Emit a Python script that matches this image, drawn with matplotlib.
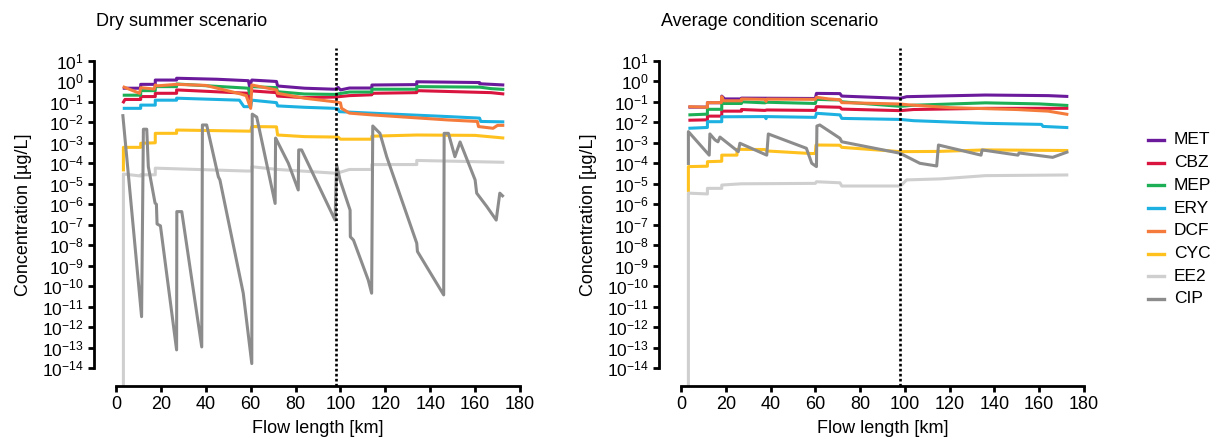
import matplotlib
matplotlib.use("Agg")
import matplotlib.pyplot as plt
from matplotlib.lines import Line2D

plt.rcParams['font.family'] = ['Liberation Sans', 'DejaVu Sans']
plt.rcParams['mathtext.fontset'] = 'custom'
plt.rcParams['mathtext.rm'] = 'Liberation Sans'
plt.rcParams['mathtext.it'] = 'Liberation Sans:italic'
plt.rcParams['mathtext.bf'] = 'Liberation Sans:bold'
plt.rcParams['mathtext.default'] = 'regular'

# ---------------- data (flow length km, concentration ug/L) ----------------
compounds = ["MET", "CBZ", "MEP", "ERY", "DCF", "CYC", "EE2", "CIP"]
colors = ["#6B1A9C", "#D8143F", "#1DAF55", "#1DB1E2", "#F47B3B", "#FFC11E", "#CFCFCF", "#8C8C8C"]
titles = ["Dry summer scenario", "Average condition scenario"]
x_ticks = [0, 20, 40, 60, 80, 100, 120, 140, 160, 180]
y_exponents = list(range(-14, 2))
marker_km = 98

# Dry summer scenario
dry_met_x = [3, 11, 11, 17.5, 17.5, 27, 27, 45, 59, 59.5, 60.5, 71.5, 72, 84, 97.5, 99, 100, 104, 114, 114, 134, 134, 162, 162, 173]
dry_met_c = [0.46, 0.46, 0.71, 0.71, 1.15, 1.15, 1.41, 1.26, 1.07, 0.55, 1.15, 0.98, 0.59, 0.46, 0.41, 0.5, 0.38, 0.47, 0.47, 0.66, 0.69, 0.95, 0.87, 0.76, 0.66]
dry_cbz_x = [3, 4, 11, 11, 17.5, 17.5, 27, 27, 59, 59.5, 60.5, 71.5, 72, 84, 97.5, 104, 114, 114, 134, 134, 167, 173]
dry_cbz_c = [0.085, 0.13, 0.13, 0.18, 0.18, 0.26, 0.26, 0.38, 0.26, 0.14, 0.34, 0.28, 0.19, 0.16, 0.17, 0.2, 0.22, 0.26, 0.28, 0.35, 0.28, 0.24]
dry_mep_x = [3, 11, 11, 17.5, 17.5, 27, 27, 59, 59.5, 60.5, 71.5, 72, 84, 97.5, 104, 114, 114, 134, 134, 162, 167, 173]
dry_mep_c = [0.21, 0.21, 0.35, 0.35, 0.55, 0.55, 0.74, 0.46, 0.25, 0.55, 0.49, 0.31, 0.24, 0.23, 0.3, 0.3, 0.41, 0.41, 0.55, 0.52, 0.44, 0.4]
dry_ery_x = [3, 11, 11, 17.5, 17.5, 27, 27, 55, 57, 60, 60.5, 71.5, 72, 84, 97.5, 99, 99.5, 120, 148, 162, 162.5, 173]
dry_ery_c = [0.048, 0.048, 0.069, 0.069, 0.12, 0.12, 0.15, 0.12, 0.058, 0.058, 0.12, 0.091, 0.063, 0.054, 0.048, 0.045, 0.033, 0.026, 0.019, 0.016, 0.011, 0.0105]
dry_dcf_x = [3, 10.5, 11, 17, 17.5, 18.5, 27, 40, 55, 58, 60, 60.5, 71.5, 72, 84, 97.5, 100, 100.5, 104, 114, 148, 161, 161.5, 168, 170, 173]
dry_dcf_c = [0.55, 0.26, 0.49, 0.42, 0.66, 0.6, 0.71, 0.63, 0.25, 0.2, 0.048, 0.66, 0.38, 0.26, 0.15, 0.1, 0.089, 0.048, 0.028, 0.023, 0.013, 0.011, 0.0062, 0.0051, 0.0071, 0.0071]
dry_cyc_x = [3.3, 3.3, 11, 11, 17.5, 17.5, 27, 27, 59, 60, 60.5, 71.5, 72, 84, 99, 100, 114, 114, 134, 160, 173]
dry_cyc_c = [4e-5, 6e-4, 6e-4, 9.5e-4, 1e-3, 2.9e-3, 2.9e-3, 4.2e-3, 3.7e-3, 3.7e-3, 6.2e-3, 6e-3, 2.4e-3, 2e-3, 1.9e-3, 1.5e-3, 1.5e-3, 2.1e-3, 2.4e-3, 2.3e-3, 1.7e-3]
dry_ee2_x = [3.3, 3.3, 11, 11, 17.5, 17.5, 58, 60.5, 60.5, 72, 97.5, 98.5, 104, 114, 114, 134, 134, 173]
dry_ee2_c = [1e-20, 3e-5, 2.4e-5, 2.75e-5, 2.75e-5, 5.8e-5, 4.2e-5, 4.2e-5, 6.8e-5, 5e-5, 3.3e-5, 3.3e-5, 5e-5, 5e-5, 8.7e-5, 8.7e-5, 1.38e-4, 1.12e-4]
dry_cip_x = [3, 11.4, 12.2, 13.7, 14.4, 17.4, 18.0, 18.3, 19.8, 27.0, 27.1, 29.3, 38.2, 38.5, 40.4, 45.6, 46.3,
             56.7, 60.5, 60.7, 62.7, 70.9, 71.1, 72, 76.8, 81.2, 81.4, 82.7, 97.6, 98.3, 99.8, 104.3, 104.4,
             105.8, 112.4, 113.9, 114.4, 117.6, 120.6, 134, 134.3, 146, 146.2, 148.1, 151, 153.3, 160, 160.7,
             165.2, 169.4, 171, 172.7]
dry_cip_c = [2.5e-2, 3.3e-12, 4.6e-3, 4.6e-3, 6.9e-5, 1.15e-6, 1e-6, 1.1e-7, 8.9e-8, 7.9e-14, 4.4e-7, 4.4e-7, 1.1e-13, 7.4e-3, 7.4e-3, 2.2e-5, 1.55e-5,
             4.6e-11, 1.7e-14, 2.5e-2, 1.8e-2, 1.1e-6, 1.7e-3, 1.1e-3, 1e-4, 5e-6, 4.5e-4, 4.5e-4, 1.7e-7, 8.3e-5, 1.55e-5, 5.2e-7, 2.6e-8,
             1.8e-8, 2e-10, 4.6e-11, 6.6e-3, 2.9e-3, 2.1e-4, 1.26e-8, 5e-9, 3.8e-11, 2.9e-3, 2.9e-3, 2.1e-4, 1.1e-3, 1.55e-5, 3.5e-6,
             7.8e-7, 1.7e-7, 3.5e-6, 2.3e-6]

# Average condition scenario
avg_met_x = [3.3, 11.8, 11.8, 18.2, 18.2, 19.5, 27, 27, 60, 60.5, 71, 71.8, 98, 100.8, 136, 164, 173]
avg_met_c = [0.055, 0.055, 0.09, 0.09, 0.19, 0.138, 0.138, 0.151, 0.145, 0.257, 0.251, 0.19, 0.148, 0.178, 0.214, 0.2, 0.182]
avg_cbz_x = [3.3, 11.8, 11.8, 18.2, 18.2, 27, 27, 37.5, 38.3, 60, 60.5, 71, 71.8, 98, 103.8, 136, 173]
avg_cbz_c = [0.0126, 0.0132, 0.02, 0.02, 0.035, 0.035, 0.042, 0.038, 0.04, 0.038, 0.058, 0.054, 0.044, 0.037, 0.042, 0.048, 0.048]
avg_mep_x = [3.3, 11.8, 11.8, 18.2, 18.2, 27, 27, 37.5, 38.3, 60, 60.5, 66, 71, 71.8, 98, 103.8, 136, 160, 173]
avg_mep_c = [0.023, 0.025, 0.043, 0.043, 0.083, 0.083, 0.1, 0.089, 0.095, 0.083, 0.132, 0.126, 0.123, 0.1, 0.06, 0.068, 0.089, 0.079, 0.066]
avg_ery_x = [3.3, 11.8, 11.8, 18.2, 18.2, 37.5, 38, 38.3, 60, 60.5, 71, 71.8, 98, 103.8, 136, 161, 161.7, 173]
avg_ery_c = [0.0051, 0.0056, 0.0107, 0.0107, 0.0186, 0.019, 0.015, 0.019, 0.0174, 0.0275, 0.023, 0.0155, 0.0138, 0.012, 0.0089, 0.0079, 0.0063, 0.0055]
avg_dcf_x = [3.3, 11.8, 11.8, 18, 18.2, 19, 27, 27, 37.5, 38, 38.3, 60, 60.5, 66, 71, 71.8, 98, 101, 120, 150, 164, 173]
avg_dcf_c = [0.058, 0.054, 0.091, 0.091, 0.178, 0.112, 0.112, 0.138, 0.132, 0.105, 0.135, 0.132, 0.166, 0.138, 0.126, 0.091, 0.078, 0.072, 0.052, 0.042, 0.035, 0.024]
avg_cyc_x = [3.3, 3.3, 11.8, 11.8, 18.2, 18.2, 25, 25, 37.5, 38.3, 58, 60, 60.3, 71, 71.8, 98, 115, 136, 173]
avg_cyc_c = [4e-6, 6.9e-5, 7.2e-5, 1.2e-4, 1.26e-4, 2.5e-4, 2.5e-4, 4.8e-4, 4.7e-4, 4e-4, 3e-4, 3e-4, 7.8e-4, 7.6e-4, 6e-4, 3.7e-4, 3.8e-4, 4.5e-4, 4.2e-4]
avg_ee2_x = [3.3, 3.3, 11.8, 11.8, 18.2, 18.2, 27, 60, 60.5, 71, 71.8, 98, 100.8, 116, 136, 173]
avg_ee2_c = [1e-20, 3.5e-6, 3.2e-6, 6e-6, 6e-6, 8.7e-6, 1e-5, 1.05e-5, 1.26e-5, 1.12e-5, 7.8e-6, 7.8e-6, 1.55e-5, 1.74e-5, 2.5e-5, 2.7e-5]
avg_cip_x = [3.3, 3.3, 12.6, 12.9, 15.2, 16.5, 17.4, 25.6, 26.3, 38.3, 39, 56, 58.4, 60.5, 60.7, 62, 71, 71.8,
             97.8, 106.7, 114.2, 115, 134, 134.5, 150.5, 151, 166, 173]
avg_cip_c = [8.3e-5, 3.5e-3, 2.5e-4, 2.7e-3, 1.38e-3, 1.12e-3, 1.9e-3, 3.7e-4, 9.5e-4, 2.5e-4, 2.7e-3, 5.4e-4, 1e-4, 6.9e-5, 6.6e-3, 7.4e-3, 1.66e-3, 1.12e-3,
             3.1e-4, 1e-4, 7.4e-5, 7.8e-4, 2.5e-4, 4.5e-4, 2.5e-4, 3.2e-4, 1.95e-4, 3.7e-4]

dry_series = [(dry_met_x, dry_met_c), (dry_cbz_x, dry_cbz_c), (dry_mep_x, dry_mep_c), (dry_ery_x, dry_ery_c),
              (dry_dcf_x, dry_dcf_c), (dry_cyc_x, dry_cyc_c), (dry_ee2_x, dry_ee2_c), (dry_cip_x, dry_cip_c)]
avg_series = [(avg_met_x, avg_met_c), (avg_cbz_x, avg_cbz_c), (avg_mep_x, avg_mep_c), (avg_ery_x, avg_ery_c),
              (avg_dcf_x, avg_dcf_c), (avg_cyc_x, avg_cyc_c), (avg_ee2_x, avg_ee2_c), (avg_cip_x, avg_cip_c)]

# ---------------- layout ----------------
W, H = 1213, 438
fig = plt.figure(figsize=(W / 100, H / 100), dpi=100)

panels = [
    # spine_px, x0_px, x180_px
    (94, 116, 520),
    (659, 681, 1084),
]
top_px, bottom_px = 60.8, 386.0
dec_px = 20.5
ylow = 10 ** (-14 - (bottom_px - 368.3) / dec_px)

for (spine_px, x0_px, x180_px), title, series in zip(panels, titles, [dry_series, avg_series]):
    ax = fig.add_axes([spine_px / W, 1 - bottom_px / H, (x180_px - spine_px) / W, (bottom_px - top_px) / H])
    ppk = (x180_px - x0_px) / 180.0
    ax.set_xlim(-(x0_px - spine_px) / ppk, 180)
    ax.set_yscale('log')
    ax.set_ylim(ylow, 10)

    for (xs, cs), col in zip(series, colors):
        ax.plot(xs, cs, color=col, lw=2.2, solid_joinstyle='round', solid_capstyle='butt')

    ax.axvline(marker_km, ymin=0, ymax=1.04, color='black', lw=1.9,
               linestyle=(0, (1, 0.9)), clip_on=False)

    for s in ['top', 'right']:
        ax.spines[s].set_visible(False)
    ax.spines['left'].set_bounds(1e-14, 10)
    ax.spines['bottom'].set_bounds(0, 180)
    for s in ['left', 'bottom']:
        ax.spines[s].set_linewidth(2.0)

    ax.set_xticks(x_ticks)
    ax.set_xticklabels([str(v) for v in x_ticks])
    ax.set_yticks([10.0 ** e for e in y_exponents])
    ax.set_yticklabels(['$10^{%d}$' % e for e in y_exponents])
    ax.yaxis.set_minor_locator(matplotlib.ticker.NullLocator())
    ax.tick_params(axis='both', which='major', direction='out', length=4.5, width=2.0, color='black')
    ax.tick_params(axis='x', labelsize=13, pad=3)
    ax.tick_params(axis='y', labelsize=12.5, pad=3)

    ax.set_xlabel('Flow length [km]', fontsize=13)
    ax.xaxis.set_label_coords(((x0_px + x180_px) / 2 - spine_px) / (x180_px - spine_px),
                              -(420 - bottom_px) / (bottom_px - top_px))
    ax.set_ylabel('Concentration [µg/L]', fontsize=13)
    ax.yaxis.set_label_coords(-62 / (x180_px - spine_px),
                              (bottom_px - 214.5) / (bottom_px - top_px))

    fig.text((spine_px + 2) / W, 1 - 22 / H, title, fontsize=13, va='center', ha='left')

# legend (manual, in figure pixels)
leg_y0, leg_dy = 140, 22.7
for i, (name, col) in enumerate(zip(compounds, colors)):
    y = 1 - (leg_y0 + i * leg_dy) / H
    fig.add_artist(Line2D([1148 / W, 1164 / W], [y, y], transform=fig.transFigure, color=col, lw=2.4))
    fig.text(1174 / W, y, name, fontsize=12.5, va='center', ha='left')

fig.savefig('out.png', dpi=100)
